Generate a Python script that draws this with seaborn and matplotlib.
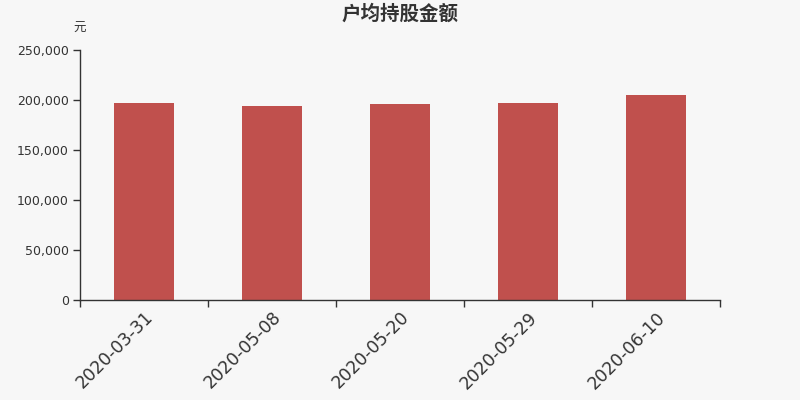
import matplotlib
matplotlib.use("Agg")
import matplotlib.pyplot as plt
import seaborn as sns
import pandas as pd
import numpy as np
from matplotlib.ticker import FuncFormatter, FixedLocator

dates = ["2020-03-31", "2020-05-08", "2020-05-20", "2020-05-29", "2020-06-10"]
values = [196800, 193800, 196000, 196900, 205000]

sns.set_theme(style="white")
plt.rcParams['font.family'] = ['DejaVu Sans', 'Noto Sans CJK SC']

bg = "#f7f7f7"
fig = plt.figure(figsize=(8, 4), dpi=100, facecolor=bg)
ax = fig.add_axes([0.1, 0.25, 0.8, 0.625])
ax.set_facecolor(bg)

df = pd.DataFrame({"date": dates, "value": values})
sns.barplot(data=df, x="date", y="value", color="#c0504d", saturation=1,
            width=0.47, linewidth=0, ax=ax)

ax.set_xlim(-0.5, len(dates) - 0.5)
ax.set_ylim(0, 250000)
ax.yaxis.set_major_locator(FixedLocator(np.arange(0, 250001, 50000)))
ax.yaxis.set_major_formatter(FuncFormatter(lambda v, p: f"{int(v):,}"))

for s in ["top", "right"]:
    ax.spines[s].set_visible(False)
for s in ["left", "bottom"]:
    ax.spines[s].set_color("#333333")
    ax.spines[s].set_linewidth(1)

ax.set_xlabel("")
ax.set_ylabel("")
ax.tick_params(axis="y", which="major", direction="out", length=5, width=1,
               color="#333333", labelsize=9, labelcolor="#333333", pad=3, left=True)
ax.tick_params(axis="x", which="major", length=0, labelsize=12.5, labelcolor="#333333", pad=6)
ax.set_xticks(np.arange(-0.5, len(dates), 1.0), minor=True)
ax.tick_params(axis="x", which="minor", direction="out", length=5, width=1,
               color="#333333", bottom=True)
for lbl in ax.get_xticklabels():
    lbl.set_rotation(45)
    lbl.set_ha("right")
    lbl.set_rotation_mode("anchor")

fig.text(0.5, 0.965, "户均持股金额", ha="center", va="center", fontsize=14,
         fontweight="bold", color="#333333", family=['Noto Sans CJK SC', 'DejaVu Sans'])
fig.text(0.099, 0.928, "元", ha="center", va="center", fontsize=9, color="#333333",
         family=['Noto Sans CJK SC', 'DejaVu Sans'])

fig.savefig("out.png", dpi=100, facecolor=bg)
